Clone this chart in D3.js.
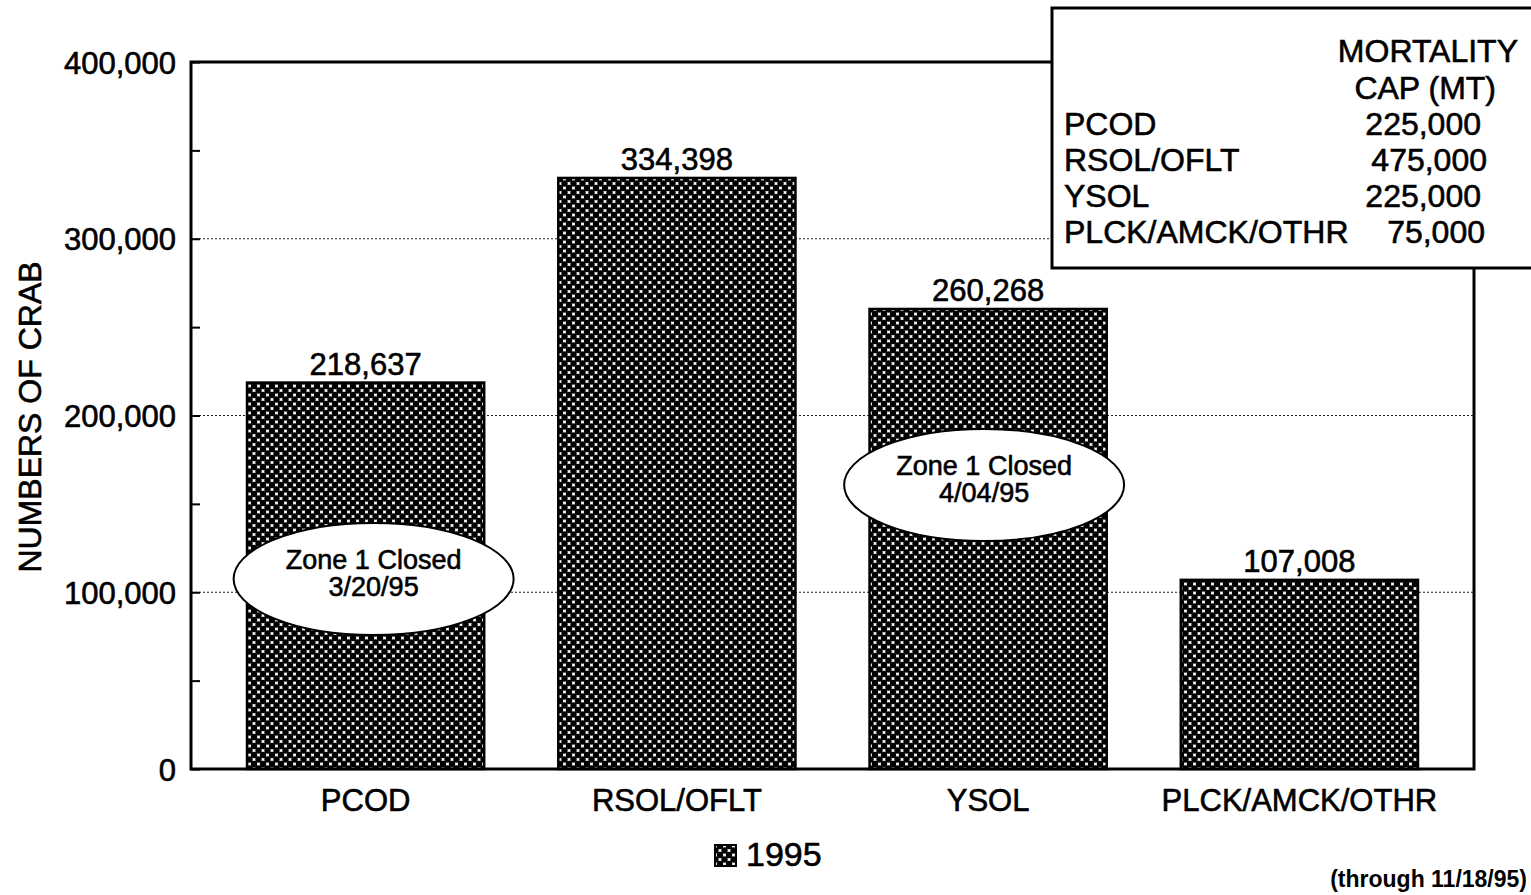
<!DOCTYPE html>
<html>
<head>
<meta charset="utf-8">
<script src="https://cdn.jsdelivr.net/npm/d3@7"></script>
<style>
  body { margin: 0; background: #fff; }
  text { font-family: "Liberation Sans", Arial, sans-serif; fill: #000; stroke: #000; stroke-width: 0.6px; }
</style>
</head>
<body>
<div class="chart"></div>
<script>
// data
var categories = ['PCOD', 'RSOL/OFLT', 'YSOL', 'PLCK/AMCK/OTHR'];
var values1995 = [218637, 334398, 260268, 107008];
var yTicks = [0, 100000, 200000, 300000, 400000];
var capNames = ['PCOD', 'RSOL/OFLT', 'YSOL', 'PLCK/AMCK/OTHR'];
var capValues = ['225,000', '475,000', '225,000', '75,000'];
var closureCats = ['PCOD', 'YSOL'];
var closureDates = ['3/20/95', '4/04/95'];
var closureLevels = [107500, 160700];

var margin = { top: 62, right: 57, bottom: 126, left: 191 };
var width = 1531 - margin.left - margin.right;
var height = 895 - margin.top - margin.bottom;

var root = d3.select('.chart')
    .append('svg')
    .attr('width', 1531)
    .attr('height', 895);

var pat = root.append('defs')
    .append('pattern')
    .attr('id', 'dots')
    .attr('patternUnits', 'userSpaceOnUse')
    .attr('width', 9)
    .attr('height', 9);
pat.append('rect').attr('width', 9).attr('height', 9).attr('fill', '#fff');
[[0, 0], [9, 0], [0, 9], [9, 9], [4.5, 4.5]].forEach(p => {
    pat.append('circle').attr('cx', p[0]).attr('cy', p[1]).attr('r', 3.2).attr('fill', '#000');
});

var svg = root.append('g')
    .attr('transform', `translate(${margin.left}, ${margin.top})`);

var yScale = d3.scaleLinear()
    .domain([0, 400000])
    .range([height, 0]);

var xScale = d3.scaleBand()
    .domain(categories)
    .range([0, width])
    .paddingInner(0.238)
    .paddingOuter(0.18);

// dotted gridlines
svg.selectAll('.grid')
    .data(yTicks.filter(d => d > 0 && d < 400000))
    .enter()
    .append('line')
    .attr('x1', 0)
    .attr('x2', width)
    .attr('y1', d => yScale(d))
    .attr('y2', d => yScale(d))
    .attr('stroke', '#222')
    .attr('stroke-width', 1)
    .attr('stroke-dasharray', '2,2');

// bars
svg.selectAll('.bar')
    .data(categories)
    .enter()
    .append('rect')
    .attr('class', 'bar')
    .attr('x', d => xScale(d))
    .attr('y', (d, i) => yScale(values1995[i]))
    .attr('width', xScale.bandwidth())
    .attr('height', (d, i) => height - yScale(values1995[i]))
    .attr('fill', 'url(#dots)')
    .attr('stroke', '#000')
    .attr('stroke-width', 2.5);

svg.selectAll('.val')
    .data(categories)
    .enter()
    .append('text')
    .attr('x', d => xScale(d) + xScale.bandwidth() / 2)
    .attr('y', (d, i) => yScale(values1995[i]) - 8)
    .attr('text-anchor', 'middle')
    .style('font-size', '31px')
    .text((d, i) => d3.format(',')(values1995[i]));

// frame
svg.append('rect')
    .attr('width', width)
    .attr('height', height)
    .attr('fill', 'none')
    .attr('stroke', '#000')
    .attr('stroke-width', 3);

// y axis
var yAxis = d3.axisLeft(yScale)
    .tickValues(d3.range(0, 400001, 50000))
    .tickSizeInner(-9)
    .tickSizeOuter(0)
    .tickFormat(d => yTicks.indexOf(d) >= 0 ? d3.format(',')(d) : '');
var yg = svg.append('g').call(yAxis);
yg.select('.domain').remove();
yg.selectAll('line').attr('stroke-width', 2);
yg.selectAll('text')
    .attr('x', -15)
    .attr('dy', '0.36em')
    .style('font-size', '31px')
    .style('font-family', '"Liberation Sans", Arial, sans-serif');

// x axis labels
var xAxis = d3.axisBottom(xScale).tickSize(0);
var xg = svg.append('g')
    .attr('transform', `translate(0, ${height})`)
    .call(xAxis);
xg.select('.domain').remove();
xg.selectAll('text')
    .attr('dy', 0)
    .attr('y', 42)
    .style('font-size', '31px')
    .style('font-family', '"Liberation Sans", Arial, sans-serif');

// closure ellipses
var closureShift = [8, -4];
var cl = svg.selectAll('.closure')
    .data(closureCats)
    .enter()
    .append('g')
    .attr('transform', (d, i) => `translate(${xScale(d) + xScale.bandwidth() / 2 + closureShift[i]}, ${yScale(closureLevels[i])})`);
cl.append('ellipse')
    .attr('rx', 140)
    .attr('ry', 56)
    .attr('fill', '#fff')
    .attr('stroke', '#000')
    .attr('stroke-width', 2);
cl.append('text')
    .attr('text-anchor', 'middle')
    .attr('y', -10)
    .style('font-size', '27px')
    .text('Zone 1 Closed');
cl.append('text')
    .attr('text-anchor', 'middle')
    .attr('y', 17)
    .style('font-size', '27px')
    .text((d, i) => closureDates[i]);

// y axis title
root.append('text')
    .attr('transform', 'translate(41, 417) rotate(-90)')
    .attr('text-anchor', 'middle')
    .style('font-size', '32px')
    .text('NUMBERS OF CRAB');

// legend
root.append('rect')
    .attr('x', 715).attr('y', 845)
    .attr('width', 21).attr('height', 21)
    .attr('fill', 'url(#dots)')
    .attr('stroke', '#000')
    .attr('stroke-width', 2);
root.append('text')
    .attr('x', 746).attr('y', 866)
    .style('font-size', '34px')
    .text('1995');

root.append('text')
    .attr('x', 1527).attr('y', 887)
    .attr('text-anchor', 'end')
    .style('font-size', '23px')
    .style('font-weight', 'bold')
    .style('stroke-width', '0')
    .text('(through 11/18/95)');

// mortality cap table
var tbl = root.append('g');
tbl.append('rect')
    .attr('x', 1052).attr('y', 8)
    .attr('width', 490).attr('height', 260)
    .attr('fill', '#fff')
    .attr('stroke', '#000')
    .attr('stroke-width', 3);
tbl.append('text')
    .attr('x', 1518).attr('y', 62)
    .attr('text-anchor', 'end')
    .style('font-size', '32px')
    .text('MORTALITY');
tbl.append('text')
    .attr('x', 1496).attr('y', 99)
    .attr('text-anchor', 'end')
    .style('font-size', '32px')
    .text('CAP (MT)');
tbl.selectAll('.capname')
    .data(capNames)
    .enter()
    .append('text')
    .attr('x', 1064)
    .attr('y', (d, i) => 135 + i * 36)
    .style('font-size', '32px')
    .text(d => d);
tbl.selectAll('.capval')
    .data(capValues)
    .enter()
    .append('text')
    .attr('x', (d, i) => [1481, 1487, 1481, 1485][i])
    .attr('y', (d, i) => 135 + i * 36)
    .attr('text-anchor', 'end')
    .style('font-size', '32px')
    .text(d => d);
</script>
</body>
</html>
